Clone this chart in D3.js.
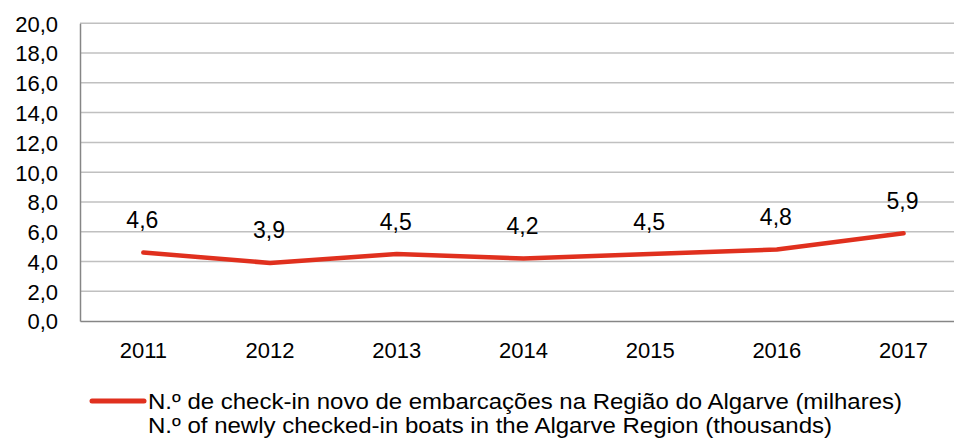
<!DOCTYPE html>
<html><head><meta charset="utf-8">
<script src="https://cdn.jsdelivr.net/npm/d3@7"></script>
<style>
html,body{margin:0;padding:0;background:#fff;}
svg{display:block;font-family:"Liberation Sans",Arial,Helvetica,sans-serif;}
</style></head>
<body>
<svg id="chart" width="954" height="442"></svg>
<script>
const years = ["2011","2012","2013","2014","2015","2016","2017"];
const values = [4.6, 3.9, 4.5, 4.2, 4.5, 4.8, 5.9];
const yTicks = [0,2,4,6,8,10,12,14,16,18,20];
const legendLines = [
  "N.º de check-in novo de embarcações na Região do Algarve (milhares)",
  "N.º of newly checked-in boats in the Algarve Region (thousands)"
];
const legendWidths = [754, 684];

const fmt = v => d3.format(".1f")(v).replace(".", ",");
const svg = d3.select("#chart");
const plotLeft = 80, plotTop = 23.3, plotBottom = 321, plotRight = 80 + 7*126.7;

const x = d3.scaleBand().domain(years).range([plotLeft, plotRight]);
const y = d3.scaleLinear().domain([0,20]).range([plotBottom, plotTop]);

// gridlines
svg.append("g").selectAll("line").data(yTicks.filter(t=>t>0)).join("line")
  .attr("x1", plotLeft).attr("x2", plotRight)
  .attr("y1", d=>y(d)).attr("y2", d=>y(d))
  .attr("stroke", "#c0c0c0").attr("stroke-width", 1.5);

// y axis
const yAxis = svg.append("g").attr("transform", `translate(${plotLeft},0)`)
  .call(d3.axisLeft(y).tickValues(yTicks).tickFormat(fmt).tickSize(0).tickPadding(22));
yAxis.select(".domain").attr("stroke", "#868686").attr("stroke-width", 1.5);
yAxis.selectAll("text").attr("font-size", 22).attr("fill", "#000")
  .attr("font-family", "Liberation Sans, Arial, sans-serif").attr("dy", "0.36em");

// x axis
const xAxis = svg.append("g").attr("transform", `translate(0,${plotBottom})`)
  .call(d3.axisBottom(x).tickSize(0).tickPadding(21));
xAxis.select(".domain").attr("stroke", "#868686").attr("stroke-width", 1.5);
xAxis.selectAll("text").attr("font-size", 22).attr("fill", "#000")
  .attr("font-family", "Liberation Sans, Arial, sans-serif");

// line
const line = d3.line().x((d,i)=>x(years[i]) + x.bandwidth()/2).y(d=>y(d));
svg.append("path").datum(values).attr("d", line)
  .attr("fill","none").attr("stroke","#e0301e").attr("stroke-width",4.5)
  .attr("stroke-linecap","round").attr("stroke-linejoin","round");

// data labels
svg.append("g").selectAll("text").data(values).join("text")
  .attr("x", (d,i)=>x(years[i]) + x.bandwidth()/2 - 1)
  .attr("y", d=>y(d) - 24.5)
  .attr("text-anchor","middle").attr("font-size", 23).attr("fill","#000")
  .text(d=>fmt(d));

// legend
svg.append("line").attr("x1", 92).attr("x2", 144).attr("y1", 401).attr("y2", 401)
  .attr("stroke","#e0301e").attr("stroke-width",5).attr("stroke-linecap","round");
svg.append("g").selectAll("text").data(legendLines).join("text")
  .attr("x", 148).attr("y", (d,i)=>409 + i*24)
  .attr("font-size", 22.5).attr("fill","#000")
  .attr("textLength", (d,i)=>legendWidths[i]).attr("lengthAdjust","spacingAndGlyphs")
  .text(d=>d);
</script>
</body></html>
